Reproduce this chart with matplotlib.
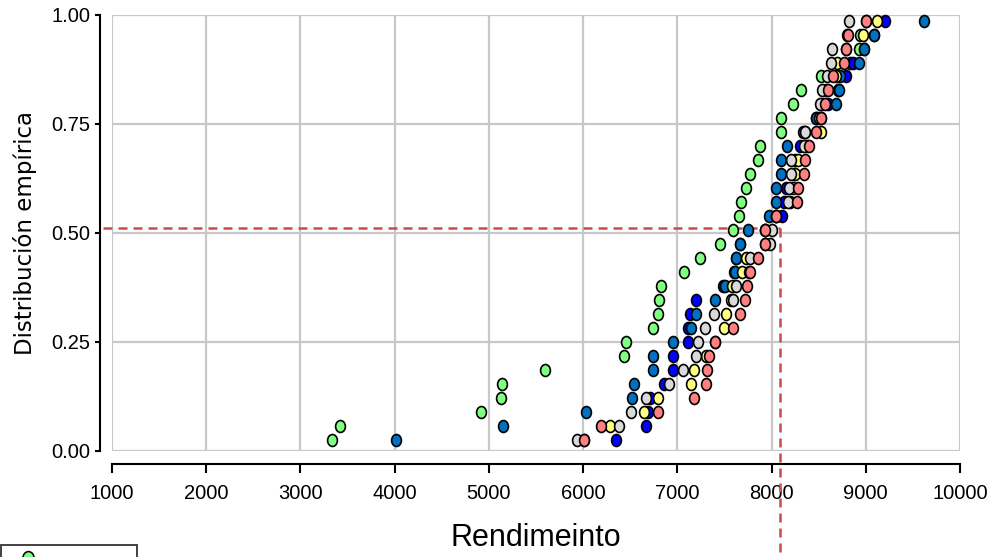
import numpy as np
import matplotlib
matplotlib.use("Agg")
import matplotlib.pyplot as plt
from matplotlib.path import Path
from matplotlib.patches import Rectangle
from matplotlib.lines import Line2D

# ECDF plotting positions (31 obs per series)
probs = [0.025, 0.057, 0.089, 0.121, 0.153, 0.185, 0.217, 0.249, 0.281, 0.313,
         0.346, 0.378, 0.410, 0.442, 0.474, 0.506, 0.538, 0.570, 0.602, 0.634,
         0.666, 0.698, 0.730, 0.762, 0.794, 0.826, 0.858, 0.890, 0.922, 0.954, 0.986]

green = [3340, 3420, 4920, 5130, 5140, 5600, 6430, 6450, 6740, 6790, 6810, 6830, 7070, 7240, 7450, 7590,
         7650, 7680, 7730, 7770, 7860, 7880, 8100, 8100, 8230, 8310, 8530, 8830, 8930, 8940, 9000]
blue = [6350, 6670, 6690, 6710, 6860, 6950, 6950, 7110, 7110, 7130, 7200, 7480, 7600, 7620, 7660, 7930,
        8110, 8130, 8150, 8240, 8250, 8300, 8350, 8470, 8600, 8700, 8790, 8860, 8980, 9090, 9200]
teal = [4010, 5150, 6030, 6520, 6540, 6740, 6740, 6950, 7150, 7200, 7400, 7510, 7610, 7620, 7660, 7750,
        7970, 8050, 8050, 8100, 8100, 8160, 8330, 8470, 8680, 8720, 8730, 8930, 8980, 9090, 9620]
yellow = [6010, 6290, 6650, 6790, 7150, 7180, 7300, 7400, 7500, 7520, 7570, 7580, 7690, 7730, 7930, 7930,
          8050, 8200, 8230, 8250, 8280, 8380, 8520, 8520, 8540, 8580, 8680, 8690, 8790, 8970, 9120]
gray = [5930, 6380, 6510, 6670, 6910, 7060, 7200, 7220, 7290, 7390, 7590, 7620, 7760, 7770, 7980, 8000,
        8050, 8170, 8190, 8210, 8210, 8340, 8360, 8500, 8510, 8540, 8590, 8630, 8640, 8800, 8820]
salmon = [6010, 6190, 6790, 7180, 7300, 7310, 7340, 7400, 7590, 7670, 7720, 7740, 7770, 7860, 7930, 7930,
          8050, 8270, 8280, 8340, 8350, 8400, 8470, 8520, 8570, 8600, 8650, 8770, 8790, 8810, 9000]

series = [(green, "#80FF80"), (blue, "#0000FF"), (teal, "#0070C0"),
          (yellow, "#FFFF80"), (gray, "#D9D9D9"), (salmon, "#FF8080")]

ref_x, ref_y = 8090, 0.51

narrow = ["Liberation Sans Narrow", "Liberation Sans", "DejaVu Sans"]

fig = plt.figure(figsize=(9.9, 5.57), dpi=100)
ax = fig.add_axes([112/990, 1 - 451/557, 848/990, 436.5/557])

circ = Path.unit_circle()
oval = Path(circ.vertices * np.array([0.82, 1.0]), circ.codes)

for xs, col in series:
    ax.plot(xs, probs, linestyle="none", marker=oval, markersize=8.6,
            markerfacecolor=col, markeredgecolor="black", markeredgewidth=1.2, clip_on=False, zorder=3)

# reference lines
ax.plot([904, ref_x], [ref_y, ref_y], color="#CC4A4A", ls=(0, (3.6, 2.4)), lw=1.8, clip_on=False, zorder=2)
ax.plot([ref_x, ref_x], [ref_y, -0.3], color="#CC4A4A", ls=(0, (3.6, 2.4)), lw=1.8, clip_on=False, zorder=2)

ax.set_xlim(1000, 10000)
ax.set_ylim(0, 1)
ax.set_xticks(np.arange(1000, 10001, 1000))
ax.set_yticks([0, 0.25, 0.5, 0.75, 1.0])
ax.set_yticklabels(["0.00", "0.25", "0.50", "0.75", "1.00"])
ax.grid(True, color="#C8C8C8", lw=1.6)
for gl in ax.get_xgridlines() + ax.get_ygridlines():
    gl.set_clip_on(False)
ax.set_axisbelow(True)

for s in ["top", "right"]:
    ax.spines[s].set_visible(False)
for s in ["left", "bottom"]:
    ax.spines[s].set_position(("outward", 9))
    ax.spines[s].set_linewidth(1.5)
ax.tick_params(axis="x", length=6.5, width=1.5, pad=8)
ax.tick_params(axis="y", length=3.6, width=1.5, pad=3)
for lab in ax.get_xticklabels() + ax.get_yticklabels():
    lab.set_fontfamily(narrow)
    lab.set_fontsize(14.5)

ax.set_xlabel("Rendimeinto", fontsize=22, family=narrow)
ax.xaxis.set_label_coords(0.5, -0.165)
ax.set_ylabel("Distribución empírica", fontsize=16.5, family=["DejaVu Sans"])
ax.yaxis.set_label_coords(-0.088, 0.5)

# partial legend box at the bottom-left corner
fig.add_artist(Rectangle((1/990, -0.05), 136/990, 0.05 + 12/557, transform=fig.transFigure,
                         fill=False, edgecolor="#333333", lw=1.3))
fig.add_artist(Line2D([28/990], [-1/557], transform=fig.transFigure, marker=oval, markersize=10,
                      markerfacecolor="#80FF80", markeredgecolor="black", markeredgewidth=1.1))

fig.savefig("out.png", dpi=100)
